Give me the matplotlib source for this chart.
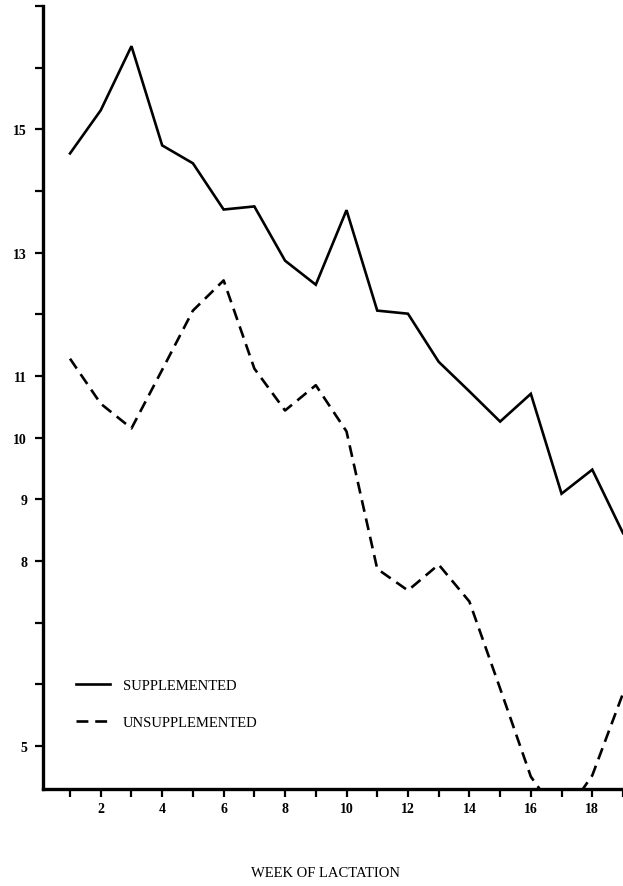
import numpy as np
import matplotlib
matplotlib.use("Agg")
import matplotlib.pyplot as plt

plt.rcParams['font.family'] = ['Liberation Serif', 'DejaVu Serif']

weeks = np.arange(1, 20)
supplemented = [14.61, 15.31, 16.35, 14.74, 14.45, 13.70, 13.75, 12.87, 12.48,
                13.69, 12.06, 12.01, 11.23, 10.75, 10.26, 10.71, 9.09, 9.48, 8.45]
unsupplemented = [11.28, 10.55, 10.15, 11.10, 12.06, 12.55, 11.12, 10.44, 10.85,
                  10.10, 7.87, 7.52, 7.94, 7.34, 5.93, 4.50, 3.80, 4.52, 5.85]

ytick_vals = np.arange(5, 18)
ytick_shown = [5, 8, 9, 10, 11, 13, 15]
xtick_shown = [2, 4, 6, 8, 10, 12, 14, 16, 18]

fig = plt.figure(figsize=(6.23, 8.87), dpi=100)
ax = fig.add_axes([0.069, 0.1094, 0.931, 0.8826])

ax.plot(weeks, supplemented, color='black', lw=1.9, solid_joinstyle='miter',
        label='SUPPLEMENTED')
ax.plot(weeks, unsupplemented, color='black', lw=1.9, linestyle=(0, (4.5, 2.6)),
        label='UNSUPPLEMENTED')

ax.set_xlim(0.12, 18.9)
ax.set_ylim(4.3, 17.0)

ax.set_yticks(ytick_vals)
ax.set_yticklabels([str(v) if v in ytick_shown else '' for v in ytick_vals])
ax.set_xticks(weeks)
ax.set_xticklabels([str(w) if w in xtick_shown else '' for w in weeks])
ax.tick_params(axis='both', direction='out', length=5.5, width=1.6,
               labelsize=10)
ax.tick_params(axis='y', pad=6)
ax.tick_params(axis='x', pad=4)
for lab in ax.get_xticklabels() + ax.get_yticklabels():
    lab.set_fontweight('bold')

for s in ['top', 'right']:
    ax.spines[s].set_visible(False)
ax.spines['left'].set_linewidth(2.4)
ax.spines['bottom'].set_linewidth(2.4)

leg = ax.legend(loc='upper left', bbox_to_anchor=(0.035, 0.157), frameon=False,
                fontsize=10.5, handlelength=2.3, labelspacing=1.6,
                handletextpad=0.9)

fig.text(0.522, 0.008, 'WEEK OF LACTATION', ha='center', va='bottom',
         fontsize=10.5)

fig.savefig('out.png', dpi=100)
